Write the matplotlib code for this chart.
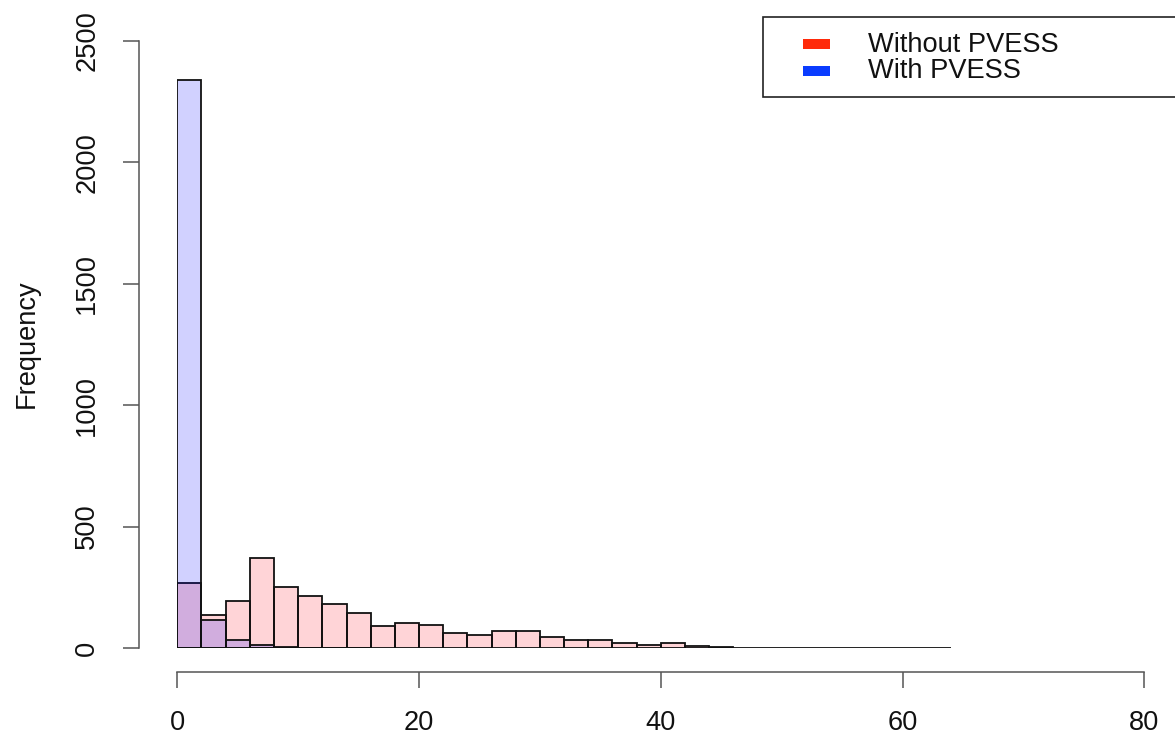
import numpy as np
import matplotlib
matplotlib.use("Agg")
import matplotlib.pyplot as plt
from matplotlib.patches import Rectangle

plt.rcParams['font.family'] = ['Liberation Sans', 'DejaVu Sans']

# histogram bins (width 2)
edges_without = np.arange(0, 66, 2)
counts_without = [267, 135, 192, 372, 250, 214, 180, 144, 91, 101, 94, 61, 55, 72,
                  70, 46, 35, 35, 22, 14, 22, 8, 3, 2, 2, 1, 1, 1, 1, 1, 1, 1]
edges_with = np.arange(0, 18, 2)
counts_with = [2340, 116, 35, 14, 4, 2, 1, 1]

legend_labels = ["Without PVESS", "With PVESS"]
legend_colors = ["#ff2a0a", "#0a3cff"]
x_ticks = [0, 20, 40, 60, 80]
y_ticks = [0, 500, 1000, 1500, 2000, 2500]

FS = 19.6
W, H = 1175, 736
fig = plt.figure(figsize=(W / 100, H / 100), dpi=100)


def fx(px):
    return px / W


def fy(py):
    return 1 - py / H


ax = fig.add_axes([fx(177.3), fy(648), fx(1144.3) - fx(177.3), fy(41) - fy(648)])

ax.bar(edges_without[:-1], counts_without, width=2, align='edge',
       color=(1, 0, 0.08, 0.17), edgecolor='#111111', linewidth=1.3)
ax.bar(edges_with[:-1], counts_with, width=2, align='edge',
       color=(0, 0, 1, 0.18), edgecolor='#111111', linewidth=1.3)

for s in ['top', 'right']:
    ax.spines[s].set_visible(False)
ax.spines['left'].set_position(('outward', 27.5))
ax.spines['bottom'].set_position(('outward', 17))

ax.set_xlim(0, 80)
ax.set_ylim(0, 2500)
ax.set_xticks(x_ticks)
ax.set_yticks(y_ticks)
ax.spines['left'].set_bounds(0, 2500)
ax.spines['bottom'].set_bounds(0, 80)
for s in ['left', 'bottom']:
    ax.spines[s].set_color('#555555')
    ax.spines[s].set_linewidth(1.1)
ax.tick_params(axis='both', length=11.5, width=1.1, color='#555555',
               labelsize=FS, labelcolor='#111111')
ax.tick_params(axis='x', pad=16)
ax.tick_params(axis='y', pad=16.5, labelrotation=90)
for lab in ax.get_yticklabels():
    lab.set_va('center')
ax.patch.set_visible(False)

fig.text(fx(27), fy(344), "Frequency", rotation=90, ha='center', va='center',
         fontsize=FS, color='#111111')

# legend box, cut by the right edge like the original
fig.add_artist(Rectangle((fx(763), fy(97)), fx(1200) - fx(763), fy(17) - fy(97),
                         transform=fig.transFigure, facecolor='white',
                         edgecolor='#222222', linewidth=1.2, clip_on=False))
for i, (lab, col) in enumerate(zip(legend_labels, legend_colors)):
    cy = 44 + 26.5 * i
    fig.add_artist(Rectangle((fx(803), fy(cy + 5)), fx(830) - fx(803), fy(cy - 5) - fy(cy + 5),
                             transform=fig.transFigure, facecolor=col, edgecolor='none'))
    fig.text(fx(868), fy(cy + 1), lab, ha='left', va='center', fontsize=FS, color='#111111')

fig.savefig("out.png", dpi=100)
